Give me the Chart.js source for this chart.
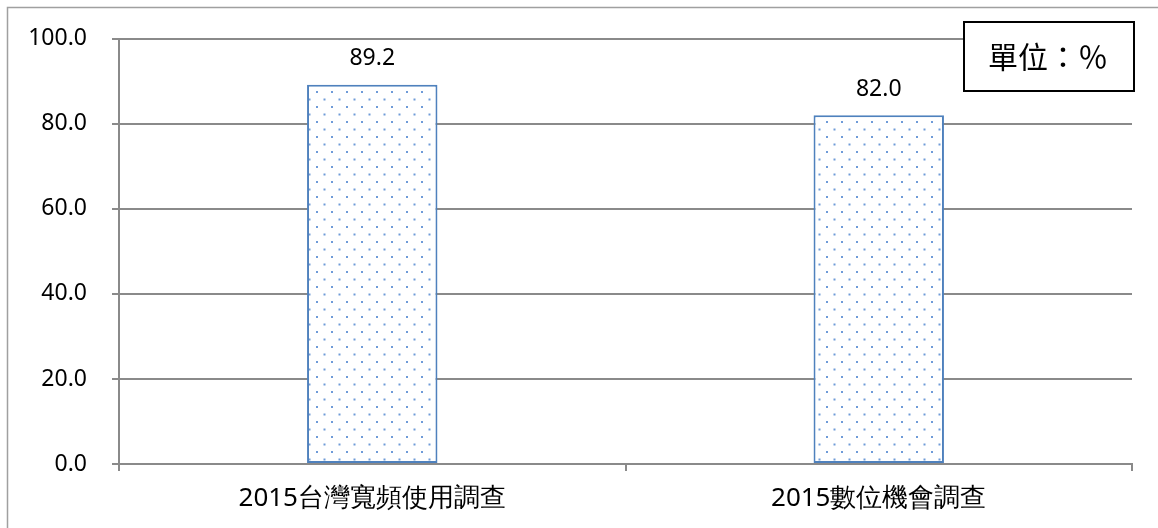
<!DOCTYPE html>
<html>
<head>
<meta charset="utf-8">
<script src="https://cdn.jsdelivr.net/npm/chart.js@4"></script>
<style>
  html, body { margin: 0; padding: 0; background: #fff; }
  #wrap { width: 1158px; height: 528px; }
</style>
</head>
<body>
<div id="wrap"><canvas id="broadbandChart"></canvas></div>
<script>
// data
const categories = ['2015台灣寬頻使用調查', '2015數位機會調查'];
const rates = [89.2, 82.0];
const yTicks = [0, 20, 40, 60, 80, 100];
const unitText = '單位：％';

// dotted fill like the original bars
function dotPattern() {
    const c = document.createElement('canvas');
    c.width = 15; c.height = 15;
    const g = c.getContext('2d');
    g.fillStyle = '#ffffff';
    g.fillRect(0, 0, 15, 15);
    g.fillStyle = '#6f9bd8';
    g.fillRect(1, 1, 2, 2);
    g.fillRect(8.5, 8.5, 2, 2);
    return g.createPattern(c, 'repeat');
}

const gridGray = '#8a8a8a';
const family = "'Noto Sans', 'Liberation Sans', sans-serif";
const tickFont = { family: family, size: 23 };
const catFont = { family: family, size: 26 };

const decorations = {
    id: 'decorations',
    beforeDraw(chart) {
        const ctx = chart.ctx;
        ctx.save();
        ctx.strokeStyle = '#a0a0a0';
        ctx.lineWidth = 1.5;
        ctx.beginPath();
        ctx.moveTo(7.5, 528);
        ctx.lineTo(7.5, 7.5);
        ctx.lineTo(1158, 7.5);
        ctx.stroke();
        ctx.restore();
    },
    afterDatasetsDraw(chart) {
        const ctx = chart.ctx;
        ctx.save();
        // value labels
        ctx.fillStyle = '#000';
        ctx.font = `${tickFont.size}px ${family}`;
        ctx.textAlign = 'center';
        ctx.textBaseline = 'middle';
        chart.getDatasetMeta(0).data.forEach((bar, i) => {
            ctx.fillText(rates[i].toFixed(1), bar.x, bar.y - 26);
        });
        // unit box
        ctx.fillStyle = '#fff';
        ctx.fillRect(964, 22, 170, 69);
        ctx.strokeStyle = '#000';
        ctx.lineWidth = 2;
        ctx.strokeRect(964, 22, 170, 69);
        ctx.fillStyle = '#000';
        ctx.font = "30px 'Noto Sans CJK TC', sans-serif";
        ctx.fillText(unitText, 1048, 57);
        ctx.restore();
    }
};

const ctx = document.getElementById('broadbandChart').getContext('2d');
const broadbandChart = new Chart(ctx, {
    type: 'bar',
    data: {
        labels: categories,
        datasets: [{
            data: rates,
            backgroundColor: dotPattern(),
            borderColor: '#4f81bd',
            borderWidth: 2,
            borderSkipped: false,
            barPercentage: 0.515,
            categoryPercentage: 0.5
        }]
    },
    options: {
        responsive: true,
        maintainAspectRatio: false,
        animation: false,
        layout: { padding: { left: 0, top: 35, right: 26, bottom: 0 } },
        plugins: {
            legend: { display: false },
            tooltip: { enabled: false }
        },
        scales: {
            x: {
                afterFit: scale => { scale.height = 64; },
                grid: {
                    offset: true,
                    drawOnChartArea: false,
                    drawTicks: true,
                    tickLength: 7,
                    color: gridGray,
                    lineWidth: 2
                },
                border: { color: gridGray, width: 2 },
                ticks: { color: '#000', font: catFont, padding: 12 }
            },
            y: {
                min: 0,
                max: 100,
                afterFit: scale => { scale.width = 119; },
                afterBuildTicks: scale => { scale.ticks = yTicks.map(v => ({ value: v })); },
                grid: { color: gridGray, lineWidth: 2, tickLength: 7 },
                border: { color: gridGray, width: 2 },
                ticks: {
                    color: '#000',
                    font: tickFont,
                    padding: 25,
                    callback: v => v.toFixed(1)
                }
            }
        }
    },
    plugins: [decorations]
});
</script>
</body>
</html>
